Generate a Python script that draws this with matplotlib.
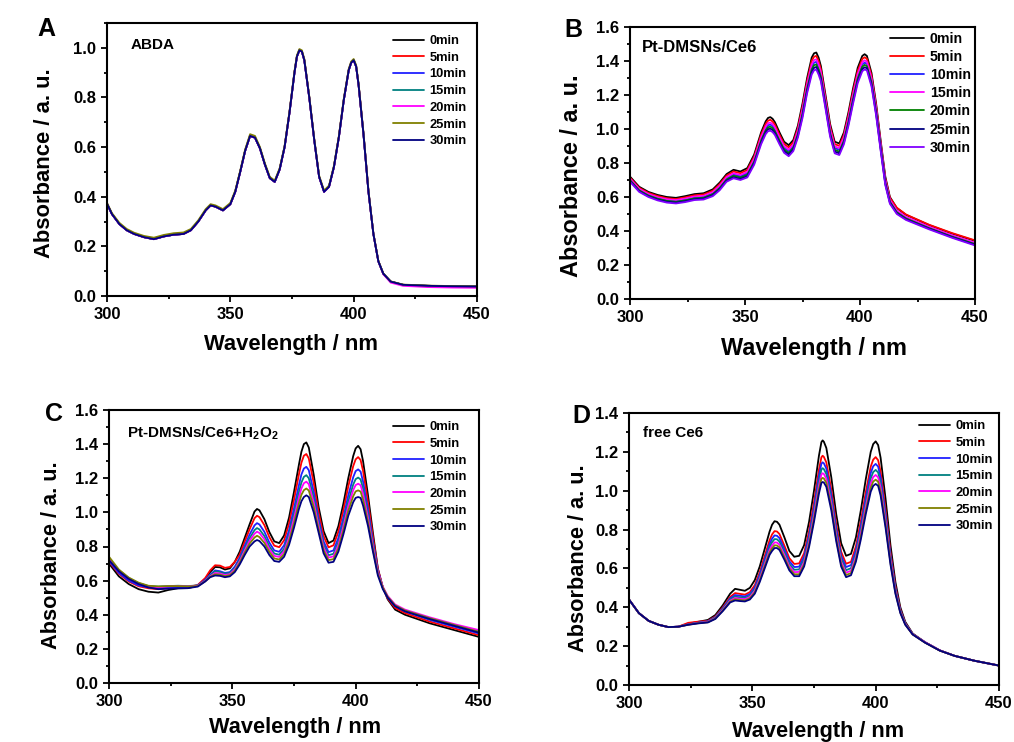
import matplotlib
matplotlib.use("Agg")
import matplotlib.pyplot as plt
from matplotlib.ticker import MultipleLocator, FormatStrFormatter

plt.rcParams['font.family'] = ['Liberation Sans', 'DejaVu Sans']
plt.rcParams['font.weight'] = 'bold'
plt.rcParams['mathtext.fontset'] = 'custom'
plt.rcParams['mathtext.rm'] = 'Liberation Sans:bold'
plt.rcParams['mathtext.default'] = 'rm'

W, H = 1014, 742

times = ['0min', '5min', '10min', '15min', '20min', '25min', '30min']

# ---------------- panel A : ABDA ----------------
wl_a = [300, 302, 305, 308, 311, 315, 319, 323, 327, 331, 334, 337, 340, 342, 344, 347,
        350, 352, 354, 356, 358, 360, 362, 364, 366, 368, 370, 372, 374, 376, 377, 378,
        379, 380, 382, 384, 386, 388, 390, 392, 394, 396, 398, 399, 400, 401, 402, 404,
        406, 408, 410, 412, 415, 420, 430, 440, 450]
a_base = [0.372, 0.33, 0.29, 0.265, 0.25, 0.237, 0.229, 0.24, 0.247, 0.25, 0.265, 0.30,
          0.345, 0.365, 0.36, 0.345, 0.37, 0.42, 0.50, 0.585, 0.645, 0.638, 0.595, 0.53,
          0.475, 0.46, 0.51, 0.60, 0.74, 0.90, 0.965, 0.99, 0.985, 0.95, 0.80, 0.63, 0.48,
          0.42, 0.44, 0.52, 0.64, 0.79, 0.91, 0.94, 0.95, 0.925, 0.85, 0.65, 0.42, 0.25,
          0.14, 0.09, 0.058, 0.045, 0.041, 0.039, 0.038]
a_magenta = [0.372, 0.33, 0.29, 0.265, 0.25, 0.237, 0.229, 0.24, 0.247, 0.25, 0.265, 0.30,
             0.345, 0.365, 0.36, 0.345, 0.37, 0.42, 0.50, 0.585, 0.645, 0.638, 0.595, 0.53,
             0.475, 0.46, 0.51, 0.60, 0.74, 0.90, 0.965, 0.99, 0.985, 0.95, 0.80, 0.63, 0.48,
             0.42, 0.44, 0.52, 0.64, 0.79, 0.91, 0.94, 0.95, 0.925, 0.85, 0.65, 0.42, 0.25,
             0.14, 0.088, 0.054, 0.041, 0.036, 0.034, 0.033]
a_olive = [0.375, 0.334, 0.295, 0.27, 0.255, 0.242, 0.235, 0.246, 0.253, 0.256, 0.27, 0.305,
           0.35, 0.37, 0.365, 0.35, 0.375, 0.425, 0.505, 0.59, 0.652, 0.645, 0.60, 0.535,
           0.48, 0.465, 0.515, 0.605, 0.745, 0.905, 0.97, 0.995, 0.99, 0.955, 0.805, 0.635,
           0.485, 0.425, 0.445, 0.525, 0.645, 0.795, 0.915, 0.945, 0.955, 0.93, 0.855, 0.655,
           0.425, 0.252, 0.142, 0.091, 0.059, 0.046, 0.042, 0.04, 0.039]
abs_a = [a_base, a_base, a_base, a_base, a_magenta, a_olive, a_base]

# ---------------- panel B : Pt-DMSNs/Ce6 ----------------
wl_b = [300, 304, 308, 312, 316, 320, 324, 328, 332, 336, 339, 342, 345, 348, 351, 354, 357,
        359, 360, 361, 362, 363,
        365, 367, 369, 371, 373, 375, 377, 379,
        380, 381, 382, 383,
        385, 387, 389, 391, 393, 395, 397, 399, 401,
        402, 403, 405, 407, 409, 411, 413, 416, 420, 430, 440, 450]
b_0 = [0.72, 0.66, 0.63, 0.612, 0.60, 0.595, 0.605, 0.617, 0.622, 0.645, 0.685, 0.735, 0.76,
       0.75, 0.77, 0.85, 0.98,
       1.045, 1.065, 1.07, 1.06, 1.04,
       0.98, 0.925, 0.905, 0.935, 1.02, 1.15, 1.30, 1.42,
       1.445, 1.45, 1.42, 1.37,
       1.20, 1.03, 0.925, 0.915, 0.98, 1.10, 1.24, 1.36, 1.43,
       1.44, 1.43, 1.33, 1.15, 0.93, 0.72, 0.60, 0.535, 0.495, 0.435, 0.385, 0.342]
b_5 = [0.714, 0.654, 0.624, 0.606, 0.593, 0.588, 0.598, 0.61, 0.615, 0.637, 0.676, 0.726,
       0.75, 0.74, 0.759, 0.838, 0.966,
       1.03, 1.049, 1.054, 1.044, 1.025,
       0.966, 0.912, 0.892, 0.922, 1.006, 1.133, 1.282, 1.40,
       1.425, 1.43, 1.40, 1.352,
       1.184, 1.015, 0.911, 0.901, 0.966, 1.084, 1.222, 1.342, 1.412,
       1.422, 1.413, 1.314, 1.136, 0.918, 0.71, 0.595, 0.537, 0.497, 0.437, 0.388, 0.345]
b_10 = [0.703, 0.643, 0.613, 0.594, 0.582, 0.577, 0.586, 0.598, 0.602, 0.623, 0.66, 0.71,
        0.732, 0.722, 0.74, 0.817, 0.941,
        1.004, 1.022, 1.026, 1.017, 0.999,
        0.941, 0.889, 0.869, 0.899, 0.981, 1.103, 1.25, 1.365,
        1.39, 1.395, 1.365, 1.32,
        1.156, 0.989, 0.888, 0.878, 0.941, 1.056, 1.19, 1.31, 1.38,
        1.39, 1.383, 1.286, 1.111, 0.897, 0.692, 0.578, 0.516, 0.478, 0.421, 0.371, 0.327]
b_15 = [0.708, 0.648, 0.618, 0.599, 0.587, 0.582, 0.591, 0.603, 0.607, 0.629, 0.667, 0.717,
        0.74, 0.73, 0.748, 0.826, 0.952,
        1.015, 1.034, 1.038, 1.029, 1.01,
        0.952, 0.899, 0.879, 0.909, 0.992, 1.116, 1.264, 1.38,
        1.405, 1.41, 1.38, 1.334,
        1.168, 1.0, 0.898, 0.888, 0.952, 1.068, 1.204, 1.324, 1.394,
        1.404, 1.396, 1.298, 1.122, 0.906, 0.70, 0.584, 0.521, 0.483, 0.425, 0.375, 0.331]
b_20 = [0.699, 0.639, 0.609, 0.59, 0.577, 0.572, 0.58, 0.592, 0.596, 0.617, 0.653, 0.703,
        0.725, 0.715, 0.731, 0.808, 0.931,
        0.992, 1.01, 1.014, 1.005, 0.987,
        0.931, 0.879, 0.859, 0.889, 0.971, 1.09, 1.237, 1.35,
        1.375, 1.38, 1.35, 1.307,
        1.144, 0.977, 0.877, 0.867, 0.931, 1.044, 1.177, 1.297, 1.367,
        1.377, 1.37, 1.274, 1.101, 0.888, 0.685, 0.572, 0.51, 0.474, 0.417, 0.367, 0.323]
b_25 = [0.694, 0.634, 0.604, 0.585, 0.572, 0.567, 0.575, 0.587, 0.591, 0.611, 0.647, 0.697,
        0.717, 0.707, 0.723, 0.799, 0.92,
        0.981, 0.999, 1.002, 0.994, 0.976,
        0.92, 0.87, 0.85, 0.88, 0.96, 1.078, 1.223, 1.335,
        1.36, 1.365, 1.335, 1.293,
        1.132, 0.966, 0.867, 0.857, 0.92, 1.032, 1.163, 1.283, 1.353,
        1.363, 1.358, 1.262, 1.09, 0.879, 0.677, 0.566, 0.505, 0.469, 0.414, 0.364, 0.319]
b_30 = [0.69, 0.63, 0.60, 0.58, 0.567, 0.562, 0.57, 0.582, 0.585, 0.605, 0.64, 0.69, 0.71,
        0.70, 0.715, 0.79, 0.91,
        0.97, 0.987, 0.99, 0.982, 0.965,
        0.91, 0.86, 0.84, 0.87, 0.95, 1.065, 1.21, 1.32,
        1.345, 1.35, 1.32, 1.28,
        1.12, 0.955, 0.857, 0.847, 0.91, 1.02, 1.15, 1.27, 1.34,
        1.35, 1.345, 1.25, 1.08, 0.87, 0.67, 0.56, 0.50, 0.465, 0.41, 0.36, 0.315]
abs_b = [b_0, b_5, b_10, b_15, b_20, b_25, b_30]

# ---------------- panel C : Pt-DMSNs/Ce6 + H2O2 ----------------
wl_c = [300, 304, 308, 312, 316, 320, 324, 328, 332, 336, 339, 341, 343, 345, 347, 349,
        351, 353, 355, 357,
        359, 360, 361,
        363, 365, 367, 369, 371, 373, 375, 377,
        378, 379, 380, 381,
        383, 385, 387, 389, 391, 393, 395, 397, 399,
        400, 401, 402,
        403, 405, 407, 409, 411, 413, 416, 420, 430, 440, 450]
c_0 = [0.70, 0.625, 0.58, 0.55, 0.535, 0.53, 0.545, 0.555, 0.556, 0.57, 0.61, 0.65, 0.68,
       0.678, 0.665, 0.672, 0.71, 0.77, 0.85, 0.93,
       1.005, 1.02, 1.012,
       0.96, 0.885, 0.83, 0.82, 0.865, 0.97, 1.12, 1.28,
       1.355, 1.40, 1.41, 1.38,
       1.22, 1.03, 0.89, 0.82, 0.835, 0.92, 1.05, 1.20, 1.33,
       1.375, 1.39, 1.37,
       1.30, 1.10, 0.88, 0.67, 0.56, 0.49, 0.43, 0.40, 0.35, 0.31, 0.27]
c_5 = [0.71, 0.64, 0.595, 0.567, 0.555, 0.55, 0.556, 0.56, 0.562, 0.575, 0.615, 0.66, 0.69,
       0.688, 0.675, 0.68, 0.71, 0.753, 0.828, 0.901,
       0.966, 0.98, 0.972,
       0.925, 0.855, 0.805, 0.796, 0.837, 0.935, 1.074, 1.223,
       1.291, 1.332, 1.342, 1.316,
       1.172, 0.997, 0.861, 0.795, 0.807, 0.887, 1.01, 1.152, 1.271,
       1.311, 1.324, 1.307,
       1.243, 1.06, 0.856, 0.67, 0.56, 0.495, 0.44, 0.41, 0.36, 0.32, 0.28]
c_10 = [0.715, 0.645, 0.60, 0.572, 0.56, 0.555, 0.56, 0.562, 0.562, 0.572, 0.605, 0.635,
        0.66, 0.655, 0.645, 0.65, 0.682, 0.735, 0.804, 0.87,
        0.924, 0.937, 0.929,
        0.886, 0.823, 0.777, 0.769, 0.807, 0.896, 1.023, 1.16,
        1.222, 1.257, 1.267, 1.247,
        1.119, 0.961, 0.83, 0.767, 0.777, 0.851, 0.967, 1.099, 1.206,
        1.242, 1.252, 1.239,
        1.18, 1.017, 0.829, 0.66, 0.56, 0.50, 0.45, 0.42, 0.37, 0.33, 0.29]
c_15 = [0.73, 0.66, 0.615, 0.585, 0.568, 0.565, 0.568, 0.57, 0.568, 0.572, 0.60, 0.63,
        0.655, 0.65, 0.64, 0.645, 0.673, 0.723, 0.788, 0.849,
        0.896, 0.908, 0.90,
        0.861, 0.801, 0.759, 0.752, 0.787, 0.871, 0.99, 1.119,
        1.175, 1.208, 1.218, 1.20,
        1.084, 0.937, 0.809, 0.749, 0.757, 0.827, 0.938, 1.064, 1.163,
        1.195, 1.204, 1.193,
        1.139, 0.988, 0.812, 0.65, 0.56, 0.505, 0.455, 0.425, 0.375, 0.34, 0.30]
c_20 = [0.725, 0.658, 0.612, 0.583, 0.566, 0.562, 0.566, 0.568, 0.566, 0.57, 0.598, 0.625,
        0.645, 0.642, 0.633, 0.638, 0.666, 0.714, 0.776, 0.834,
        0.875, 0.887, 0.879,
        0.842, 0.785, 0.745, 0.739, 0.772, 0.852, 0.965, 1.088,
        1.14, 1.171, 1.18, 1.165,
        1.057, 0.919, 0.794, 0.735, 0.742, 0.809, 0.917, 1.037, 1.13,
        1.16, 1.168, 1.159,
        1.108, 0.967, 0.799, 0.65, 0.565, 0.51, 0.46, 0.43, 0.385, 0.345, 0.31]
c_25 = [0.74, 0.665, 0.618, 0.588, 0.57, 0.566, 0.568, 0.568, 0.566, 0.568, 0.596, 0.622,
        0.637, 0.635, 0.626, 0.632, 0.658, 0.705, 0.763, 0.817,
        0.853, 0.863, 0.855,
        0.821, 0.768, 0.73, 0.724, 0.756, 0.831, 0.937, 1.054,
        1.103, 1.13, 1.14, 1.128,
        1.029, 0.899, 0.777, 0.72, 0.726, 0.789, 0.893, 1.009, 1.095,
        1.123, 1.129, 1.122,
        1.074, 0.943, 0.784, 0.64, 0.56, 0.505, 0.455, 0.425, 0.38, 0.34, 0.30]
c_30 = [0.72, 0.655, 0.61, 0.58, 0.56, 0.55, 0.553, 0.555, 0.556, 0.565, 0.595, 0.62, 0.63,
        0.628, 0.62, 0.625, 0.65, 0.695, 0.75, 0.80,
        0.83, 0.838, 0.832,
        0.80, 0.75, 0.715, 0.71, 0.74, 0.81, 0.91, 1.02,
        1.065, 1.09, 1.10, 1.09,
        1.00, 0.88, 0.76, 0.705, 0.71, 0.77, 0.87, 0.98, 1.06,
        1.085, 1.09, 1.085,
        1.04, 0.92, 0.77, 0.63, 0.55, 0.50, 0.45, 0.42, 0.375, 0.335, 0.295]
abs_c = [c_0, c_5, c_10, c_15, c_20, c_25, c_30]

# ---------------- panel D : free Ce6 ----------------
wl_d = [300, 304, 308, 312, 316, 320, 324, 328, 332, 335, 338, 341, 343, 345, 347, 349,
        351, 353, 355, 357,
        358, 359, 360,
        361, 363, 365, 367, 369, 371, 373, 375, 377,
        378, 378.5, 379,
        380, 382, 384, 386, 388, 390, 392, 394, 396, 398,
        399, 400, 401,
        402, 404, 406, 408, 410, 412, 415, 420, 426, 432, 440, 450]
d_0 = [0.44, 0.37, 0.33, 0.31, 0.298, 0.30, 0.315, 0.325, 0.335, 0.36, 0.41, 0.47, 0.495,
       0.49, 0.485, 0.50, 0.54, 0.61, 0.70, 0.79,
       0.825, 0.843, 0.84,
       0.825, 0.76, 0.69, 0.66, 0.665, 0.72, 0.84, 1.00, 1.18,
       1.25, 1.259, 1.252,
       1.22, 1.07, 0.88, 0.73, 0.665, 0.675, 0.76, 0.90, 1.06, 1.20,
       1.24, 1.254, 1.235,
       1.17, 0.96, 0.72, 0.53, 0.40, 0.325, 0.265, 0.22, 0.178, 0.15, 0.125, 0.10]
d_5 = [0.44, 0.37, 0.33, 0.31, 0.298, 0.30, 0.32, 0.326, 0.33, 0.353, 0.399, 0.453, 0.473,
       0.469, 0.465, 0.478, 0.514, 0.58, 0.663, 0.746,
       0.775, 0.792, 0.79,
       0.777, 0.717, 0.653, 0.623, 0.626, 0.679, 0.792, 0.941, 1.108,
       1.172, 1.18, 1.174,
       1.146, 1.007, 0.828, 0.686, 0.624, 0.634, 0.714, 0.844, 0.993, 1.124,
       1.16, 1.173, 1.157,
       1.098, 0.904, 0.683, 0.508, 0.389, 0.319, 0.263, 0.22, 0.178, 0.15, 0.125, 0.10]
d_10 = [0.44, 0.37, 0.33, 0.31, 0.298, 0.30, 0.312, 0.321, 0.328, 0.349, 0.394, 0.446,
        0.463, 0.459, 0.456, 0.468, 0.503, 0.568, 0.647, 0.726,
        0.753, 0.77, 0.768,
        0.756, 0.699, 0.637, 0.607, 0.609, 0.662, 0.771, 0.915, 1.077,
        1.139, 1.146, 1.141,
        1.114, 0.98, 0.806, 0.666, 0.607, 0.617, 0.694, 0.82, 0.965, 1.091,
        1.126, 1.138, 1.124,
        1.067, 0.88, 0.667, 0.498, 0.384, 0.317, 0.262, 0.22, 0.178, 0.15, 0.125, 0.10]
d_15 = [0.44, 0.37, 0.33, 0.31, 0.298, 0.30, 0.312, 0.32, 0.326, 0.347, 0.39, 0.44, 0.455,
        0.451, 0.448, 0.46, 0.493, 0.556, 0.633, 0.71,
        0.735, 0.751, 0.75,
        0.738, 0.683, 0.623, 0.593, 0.595, 0.646, 0.753, 0.893, 1.049,
        1.109, 1.116, 1.111,
        1.086, 0.956, 0.786, 0.65, 0.591, 0.601, 0.676, 0.799, 0.939, 1.063,
        1.096, 1.107, 1.094,
        1.039, 0.859, 0.653, 0.49, 0.38, 0.315, 0.262, 0.22, 0.178, 0.15, 0.125, 0.10]
d_20 = [0.44, 0.37, 0.33, 0.31, 0.298, 0.30, 0.311, 0.319, 0.325, 0.344, 0.386, 0.434,
        0.448, 0.444, 0.442, 0.453, 0.485, 0.547, 0.621, 0.695,
        0.718, 0.734, 0.733,
        0.722, 0.669, 0.611, 0.581, 0.582, 0.633, 0.737, 0.874, 1.026,
        1.084, 1.09, 1.086,
        1.062, 0.936, 0.769, 0.635, 0.578, 0.588, 0.661, 0.781, 0.918, 1.038,
        1.07, 1.081, 1.069,
        1.016, 0.841, 0.641, 0.483, 0.376, 0.313, 0.261, 0.22, 0.178, 0.15, 0.125, 0.10]
d_25 = [0.44, 0.37, 0.33, 0.31, 0.298, 0.30, 0.31, 0.318, 0.323, 0.342, 0.383, 0.429,
        0.441, 0.438, 0.435, 0.446, 0.477, 0.538, 0.61, 0.682,
        0.703, 0.719, 0.718,
        0.708, 0.656, 0.60, 0.57, 0.57, 0.621, 0.723, 0.856, 1.004,
        1.061, 1.066, 1.063,
        1.04, 0.917, 0.754, 0.622, 0.566, 0.576, 0.647, 0.765, 0.898, 1.015,
        1.047, 1.057, 1.046,
        0.994, 0.825, 0.63, 0.476, 0.373, 0.311, 0.26, 0.218, 0.177, 0.15, 0.125, 0.10]
d_30 = [0.44, 0.37, 0.33, 0.31, 0.298, 0.30, 0.31, 0.317, 0.322, 0.34, 0.38, 0.425, 0.435,
        0.432, 0.43, 0.44, 0.47, 0.53, 0.60, 0.67,
        0.69, 0.705, 0.705,
        0.695, 0.645, 0.59, 0.56, 0.56, 0.61, 0.71, 0.84, 0.985,
        1.04, 1.045, 1.042,
        1.02, 0.90, 0.74, 0.61, 0.555, 0.565, 0.635, 0.75, 0.88, 0.995,
        1.025, 1.035, 1.025,
        0.975, 0.81, 0.62, 0.47, 0.37, 0.31, 0.26, 0.218, 0.177, 0.15, 0.125, 0.10]
abs_d = [d_0, d_5, d_10, d_15, d_20, d_25, d_30]

colors_acd = ['#000000', '#ff0000', '#2020ff', '#008080', '#ff00ff', '#808000', '#000080']
colors_b = ['#000000', '#ff0000', '#2020ff', '#ff00ff', '#008000', '#000080', '#8000ff']

# layout in pixels: box = (left, top, right, bottom)
panels = [
    dict(wl=wl_a, ys=abs_a, cols=colors_acd, box=(107, 23, 477, 296), ymax=1.1, letter='A',
         letter_xy=(46, 29), note='ABDA', note_xy=(131, 45), note_fs=11,
         leg_xy=(393, 35), leg_fs=9.3, leg_sp=0.36, lab_fs=15.8,
         ylab_xy=(45, 163), xlab_xy=(291, 345)),
    dict(wl=wl_b, ys=abs_b, cols=colors_b, box=(630, 27, 975, 299), ymax=1.6, letter='B',
         letter_xy=(573, 30), note='Pt-DMSNs/Ce6', note_xy=(642, 48), note_fs=12,
         leg_xy=(890, 32), leg_fs=10.2, leg_sp=0.29, lab_fs=16.9,
         ylab_xy=(571, 176), xlab_xy=(814, 349)),
    dict(wl=wl_c, ys=abs_c, cols=colors_acd, box=(109, 410, 479, 683), ymax=1.6, letter='C',
         letter_xy=(54, 414), note='Pt-DMSNs/Ce6+H$_2$O$_2$', note_xy=(127, 433), note_fs=11,
         leg_xy=(393, 421), leg_fs=9.4, leg_sp=0.35, lab_fs=15.7,
         ylab_xy=(52, 555), xlab_xy=(295, 727)),
    dict(wl=wl_d, ys=abs_d, cols=colors_acd, box=(629, 413, 999, 685), ymax=1.4, letter='D',
         letter_xy=(581, 416), note='free Ce6', note_xy=(643, 433), note_fs=11,
         leg_xy=(919, 420), leg_fs=9.4, leg_sp=0.35, lab_fs=15.7,
         ylab_xy=(579, 558), xlab_xy=(818, 732)),
]


def fx(x):
    return x / W


def fy(y):
    return 1 - y / H


fig = plt.figure(figsize=(W / 100, H / 100), dpi=100)

for p in panels:
    l, t, r, b = p['box']
    ax = fig.add_axes([fx(l), fy(b), (r - l) / W, (b - t) / H])
    for ys, c, name in zip(p['ys'], p['cols'], times):
        ax.plot(p['wl'], ys, color=c, lw=1.3, label=name,
                solid_joinstyle='round', solid_capstyle='round')
    ax.set_xlim(300, 450)
    ax.set_ylim(0, p['ymax'])
    ax.xaxis.set_major_locator(MultipleLocator(50))
    ax.xaxis.set_minor_locator(MultipleLocator(25))
    ax.yaxis.set_major_locator(MultipleLocator(0.2))
    ax.yaxis.set_minor_locator(MultipleLocator(0.1))
    ax.yaxis.set_major_formatter(FormatStrFormatter('%.1f'))
    ax.tick_params(which='both', direction='out', width=1.3, labelsize=12)
    ax.tick_params(which='major', length=4.5)
    ax.tick_params(which='minor', length=2.5)
    for s in ax.spines.values():
        s.set_linewidth(1.5)
    for lbl in ax.get_xticklabels() + ax.get_yticklabels():
        lbl.set_fontweight('bold')

    leg = ax.legend(loc='upper left', bbox_to_anchor=(fx(p['leg_xy'][0]), fy(p['leg_xy'][1])),
                    bbox_transform=fig.transFigure, frameon=False, fontsize=p['leg_fs'],
                    handlelength=2.4, handletextpad=0.4, labelspacing=p['leg_sp'],
                    borderpad=0, borderaxespad=0)
    for txt in leg.get_texts():
        txt.set_fontweight('bold')

    fig.text(fx(p['note_xy'][0]), fy(p['note_xy'][1]), p['note'], fontsize=p['note_fs'],
             fontweight='bold', ha='left', va='center')
    fig.text(fx(p['letter_xy'][0]), fy(p['letter_xy'][1]), p['letter'], fontsize=18,
             fontweight='bold', ha='center', va='center')
    fig.text(fx(p['ylab_xy'][0]), fy(p['ylab_xy'][1]), 'Absorbance / a. u.',
             fontsize=p['lab_fs'], fontweight='bold', rotation=90, ha='center', va='center')
    fig.text(fx(p['xlab_xy'][0]), fy(p['xlab_xy'][1]), 'Wavelength / nm',
             fontsize=p['lab_fs'], fontweight='bold', ha='center', va='center')

fig.savefig('out.png', dpi=100)
